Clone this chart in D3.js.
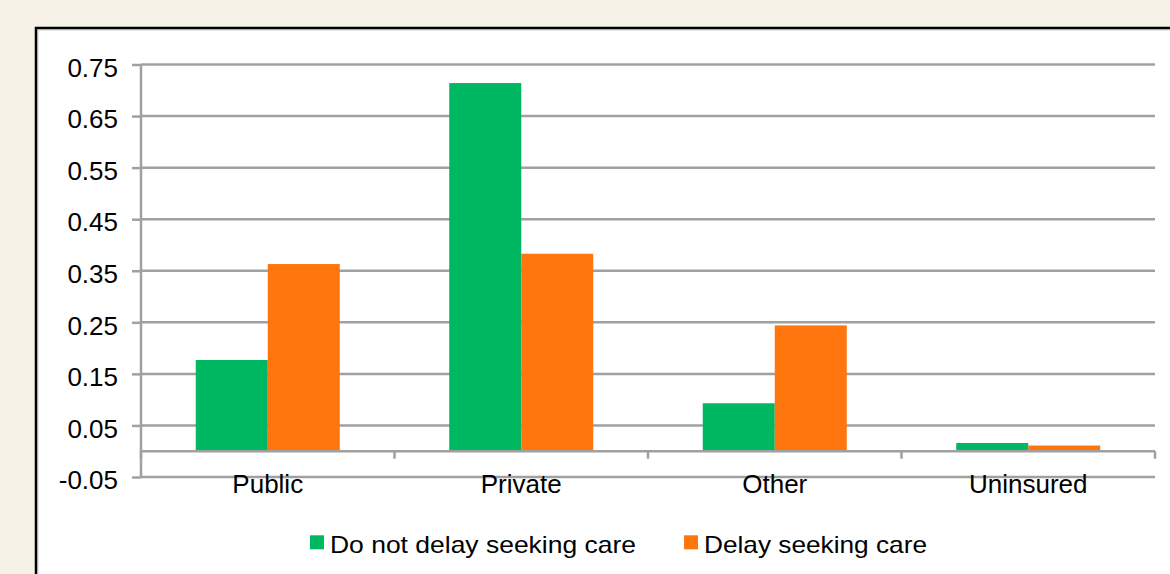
<!DOCTYPE html>
<html>
<head>
<meta charset="utf-8">
<script src="https://cdn.jsdelivr.net/npm/d3@7"></script>
<style>
  html, body { margin: 0; padding: 0; background: #f6f2e7; }
  svg { display: block; }
  text { font-family: "Liberation Sans", Arial, sans-serif; fill: #000; }
</style>
</head>
<body>
<svg id="chart" width="1170" height="574"></svg>
<script>
// Share of respondents by insurance type
const categories = ["Public", "Private", "Other", "Uninsured"];
const seriesNames = ["Do not delay seeking care", "Delay seeking care"];
const doNotDelay = [0.177, 0.714, 0.093, 0.016];
const delay = [0.363, 0.383, 0.244, 0.011];
const yTicks = [-0.05, 0.05, 0.15, 0.25, 0.35, 0.45, 0.55, 0.65, 0.75];
const colors = ["#00b862", "#fe760d"];

const svg = d3.select("#chart");

// White panel with dark frame, running off the right and bottom edges
svg.append("rect")
  .attr("x", 36).attr("y", 28).attr("width", 1200).attr("height", 600)
  .attr("fill", "#fff").attr("stroke", "#000").attr("stroke-width", 2.5);
svg.append("rect")
  .attr("x", 37.8).attr("y", 29.8).attr("width", 1200).attr("height", 600)
  .attr("fill", "none").attr("stroke", "#a8a8a8").attr("stroke-width", 1);

const left = 141, right = 1155;
const y = d3.scaleLinear().domain([-0.05, 0.75]).range([477, 64.5]);
const x0 = d3.scaleBand().domain(categories).range([left, right]).padding(0);
const barW = 72;
const x1 = d3.scaleBand().domain(seriesNames)
  .range([x0.bandwidth() / 2 - barW, x0.bandwidth() / 2 + barW]).padding(0);

const gridColor = "#a0a0a0";

// Horizontal gridlines
svg.append("g").selectAll("line").data(yTicks).join("line")
  .attr("x1", left).attr("x2", right)
  .attr("y1", d => y(d)).attr("y2", d => y(d))
  .attr("stroke", gridColor).attr("stroke-width", 2.5);

// Value axis (plain hyphen for negatives)
const fmt = d3.format(".2f");
const yAxis = d3.axisLeft(y).tickValues(yTicks).tickSize(9).tickPadding(14)
  .tickFormat(d => fmt(d).replace("\u2212", "-"));
const gy = svg.append("g").attr("transform", `translate(${left},0)`).call(yAxis);
gy.select(".domain").attr("stroke", gridColor).attr("stroke-width", 2.5)
  .attr("d", `M0,${y(0.75)}V${y(-0.05)}`);
gy.selectAll(".tick line").attr("stroke", gridColor).attr("stroke-width", 2.5);
gy.selectAll(".tick text")
  .attr("font-size", 26).attr("font-family", "Liberation Sans, Arial, sans-serif")
  .attr("dy", "0.45em").attr("fill", "#000");

// Bars
const rows = categories.map((c, i) => ({ cat: c, vals: [doNotDelay[i], delay[i]] }));
const groups = svg.append("g").selectAll("g").data(rows).join("g")
  .attr("transform", d => `translate(${x0(d.cat)},0)`);
groups.selectAll("rect")
  .data(d => d.vals.map((v, j) => ({ key: seriesNames[j], v, j })))
  .join("rect")
  .attr("x", d => x1(d.key))
  .attr("width", x1.bandwidth())
  .attr("y", d => y(Math.max(0, d.v)))
  .attr("height", d => Math.abs(y(d.v) - y(0)))
  .attr("fill", d => colors[d.j]);

// Category axis at zero
const xAxis = d3.axisBottom(x0).tickSize(0).tickPadding(0).tickFormat("");
const gx = svg.append("g").attr("transform", `translate(0,${y(0)})`).call(xAxis);
gx.select(".domain").attr("stroke", gridColor).attr("stroke-width", 2.5)
  .attr("d", `M${left},0H${right}`);
gx.selectAll(".tick").remove();

// Category divider ticks
const dividers = categories.map(c => x0(c)).concat([x0.range()[1]]);
svg.append("g").selectAll("line").data(dividers).join("line")
  .attr("x1", d => d).attr("x2", d => d)
  .attr("y1", y(0)).attr("y2", y(0) + 7.5)
  .attr("stroke", gridColor).attr("stroke-width", 2.5);

// Category labels
svg.append("g").selectAll("text").data(categories).join("text")
  .attr("x", d => x0(d) + x0.bandwidth() / 2)
  .attr("y", 493)
  .attr("text-anchor", "middle")
  .attr("font-size", 26)
  .text(d => d);

// Legend
const legendItems = [
  { name: seriesNames[0], color: colors[0], x: 310, len: 306 },
  { name: seriesNames[1], color: colors[1], x: 684, len: 223 }
];
const lg = svg.append("g").selectAll("g").data(legendItems).join("g")
  .attr("transform", d => `translate(${d.x},0)`);
lg.append("rect").attr("x", 0).attr("y", 535.3).attr("width", 14).attr("height", 14)
  .attr("fill", d => d.color);
lg.append("text").attr("x", 20).attr("y", 552.8)
  .attr("font-size", 24)
  .attr("textLength", d => d.len).attr("lengthAdjust", "spacingAndGlyphs")
  .text(d => d.name);
</script>
</body>
</html>
